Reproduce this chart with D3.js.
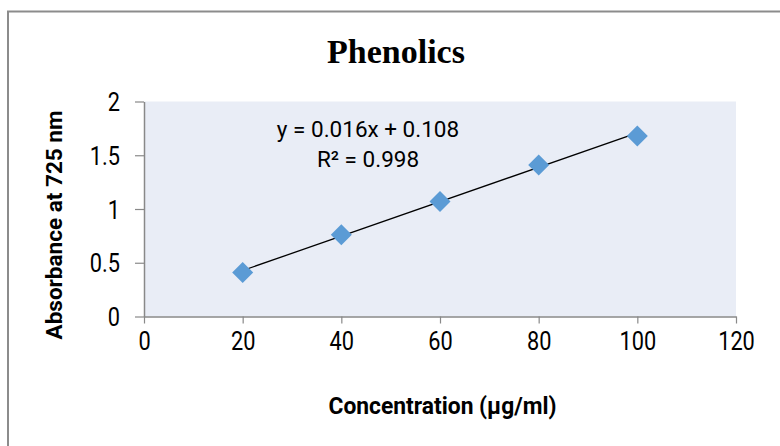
<!DOCTYPE html>
<html>
<head>
<meta charset="utf-8">
<script src="https://cdn.jsdelivr.net/npm/d3@7"></script>
<style>
  body { margin: 0; background: #fff; }
  svg { display: block; }
</style>
</head>
<body>
<div id="chart"></div>
<script>
// data
var concentration = [20, 40, 60, 80, 100];
var absorbance = [0.41, 0.76, 1.07, 1.41, 1.68];
var x_ticks = [0, 20, 40, 60, 80, 100, 120];
var y_ticks = [0, 0.5, 1, 1.5, 2];
var fit_slope = 0.016;
var fit_intercept = 0.108;
var fit_range = [20, 100];
var equation_lines = ['y = 0.016x + 0.108', 'R\u00b2 = 0.998'];
var title_text = 'Phenolics';
var x_title = 'Concentration (\u00b5g/ml)';
var y_title = 'Absorbance at 725 nm';

var width = 780, height = 446;
var plot = {left: 144, right: 736, top: 101.5, bottom: 316.5};
var axis_col = '#898989';
var label_font = 'Roboto, "Liberation Sans", sans-serif';

var svg = d3.select('#chart').append('svg:svg')
  .attr('width', width)
  .attr('height', height);

svg.append('rect')
  .attr('width', width).attr('height', height)
  .attr('fill', '#fff');

// outer chart border (runs off right and bottom)
svg.append('rect')
  .attr('x', 8).attr('y', 11.5)
  .attr('width', width + 20).attr('height', height + 20)
  .attr('fill', 'none')
  .attr('stroke', '#8c8c8c')
  .attr('stroke-width', 2);

var x = d3.scaleLinear().domain([0, 120]).range([plot.left, plot.right]);
var y = d3.scaleLinear().domain([0, 2]).range([plot.bottom, plot.top]);

svg.append('rect')
  .attr('x', plot.left).attr('y', plot.top)
  .attr('width', plot.right - plot.left)
  .attr('height', plot.bottom - plot.top)
  .attr('fill', '#e9edf6');

// squeeze a text element horizontally, the source font is a narrow one
function squeeze(sel, factor) {
  sel.each(function() {
    let len = this.getComputedTextLength();
    d3.select(this)
      .attr('textLength', len * factor)
      .attr('lengthAdjust', 'spacingAndGlyphs');
  });
}

// axes
let x_axis = svg.append('g')
  .attr('transform', 'translate(0,' + plot.bottom + ')')
  .call(d3.axisBottom(x).tickValues(x_ticks).tickSize(7).tickPadding(24).tickSizeOuter(0));
let y_axis = svg.append('g')
  .attr('transform', 'translate(' + plot.left + ',0)')
  .call(d3.axisLeft(y).tickValues(y_ticks).tickSize(9).tickPadding(15)
    .tickFormat(d => String(d)).tickSizeOuter(0));

[x_axis, y_axis].forEach(function(g) {
  g.select('.domain').attr('stroke', axis_col).attr('stroke-width', 1.5);
  g.selectAll('.tick line').attr('stroke', axis_col).attr('stroke-width', 1.2);
  g.selectAll('text')
    .attr('font-family', label_font)
    .attr('font-size', 25)
    .attr('fill', '#000')
    .call(squeeze, 0.87);
});
x_axis.selectAll('text').attr('dy', '0.1em');
y_axis.selectAll('text').attr('dy', '0.36em');

// trend line
svg.append('line')
  .attr('x1', x(fit_range[0]))
  .attr('y1', y(fit_slope * fit_range[0] + fit_intercept))
  .attr('x2', x(fit_range[1]))
  .attr('y2', y(fit_slope * fit_range[1] + fit_intercept))
  .attr('stroke', '#000')
  .attr('stroke-width', 1.3);

// diamond markers
let r = 10.5;
svg.append('g')
  .selectAll('path')
  .data(concentration)
  .join('path')
  .attr('d', function(d, i) {
    let cx = x(d), cy = y(absorbance[i]);
    return 'M' + cx + ',' + (cy - r) + 'L' + (cx + r) + ',' + cy +
      'L' + cx + ',' + (cy + r) + 'L' + (cx - r) + ',' + cy + 'Z';
  })
  .attr('fill', '#5b9bd5');

// trend line equation
svg.append('g')
  .selectAll('text')
  .data(equation_lines)
  .join('text')
  .attr('x', 368)
  .attr('y', (d, i) => 137 + i * 29.5)
  .attr('text-anchor', 'middle')
  .attr('font-family', label_font)
  .attr('font-size', 22.5)
  .text(d => d);

svg.append('text')
  .attr('x', 396).attr('y', 63)
  .attr('text-anchor', 'middle')
  .attr('font-family', '"Liberation Serif", "Times New Roman", serif')
  .attr('font-weight', 'bold')
  .attr('font-size', 34)
  .text(title_text);

svg.append('text')
  .attr('x', 442.5).attr('y', 414)
  .attr('text-anchor', 'middle')
  .attr('font-family', label_font)
  .attr('font-weight', 'bold')
  .attr('font-size', 23)
  .attr('textLength', 228)
  .attr('lengthAdjust', 'spacingAndGlyphs')
  .text(x_title);

svg.append('text')
  .attr('transform', 'translate(61.5,225) rotate(-90)')
  .attr('text-anchor', 'middle')
  .attr('font-family', label_font)
  .attr('font-weight', 'bold')
  .attr('font-size', 22)
  .attr('textLength', 229)
  .attr('lengthAdjust', 'spacingAndGlyphs')
  .text(y_title);
</script>
</body>
</html>
